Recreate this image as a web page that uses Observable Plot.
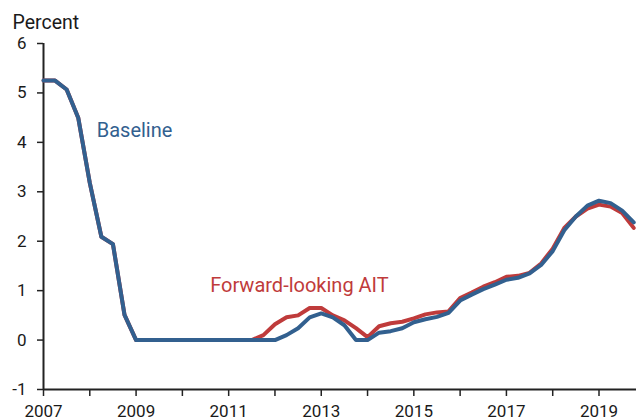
<!DOCTYPE html>
<html><head><meta charset="utf-8">
<script src="https://cdn.jsdelivr.net/npm/d3@7"></script>
<script src="https://cdn.jsdelivr.net/npm/@observablehq/plot@0.6"></script>
<style>body{margin:0;background:#fff;font-family:Roboto,sans-serif}</style>
</head><body><div id="chart"></div>
<script>
const startYear = 2007;
// quarterly policy rate paths, 2007Q1..2019Q4
const baseline = [5.25, 5.25, 5.07, 4.5, 3.18, 2.09, 1.94, 0.51, 0,
  0, 0, 0, 0, 0, 0, 0, 0, 0, 0, 0, 0,
  0.1, 0.24, 0.46, 0.54, 0.46, 0.3, 0, 0, 0.15, 0.18,
  0.24, 0.36, 0.42, 0.47, 0.55, 0.8, 0.92, 1.03, 1.12, 1.22,
  1.26, 1.35, 1.52, 1.8, 2.22, 2.5, 2.72, 2.82, 2.77, 2.62, 2.38];
const forward = [5.25, 5.25, 5.07, 4.5, 3.18, 2.09, 1.94, 0.51, 0,
  0, 0, 0, 0, 0, 0, 0, 0, 0, 0, 0.1, 0.32,
  0.46, 0.5, 0.65, 0.65, 0.5, 0.4, 0.24, 0.06, 0.28, 0.34,
  0.37, 0.44, 0.52, 0.56, 0.58, 0.85, 0.96, 1.08, 1.17, 1.28,
  1.3, 1.36, 1.55, 1.85, 2.27, 2.5, 2.66, 2.74, 2.7, 2.57, 2.27];
const yTicks = [-1, 0, 1, 2, 3, 4, 5, 6];
const xTicks = [2007, 2008, 2009, 2010, 2011, 2012, 2013, 2014, 2015, 2016, 2017, 2018, 2019];
const xLabelYears = [2007, 2009, 2011, 2013, 2015, 2017, 2019];
const seriesLabels = [
  {name: "Baseline", t: 2008.15, v: 4.24, color: "#32608f"},
  {name: "Forward-looking AIT", t: 2010.6, v: 1.1, color: "#bf3b3b"}
];
const blue = "#32608f", red = "#bf3b3b";

const rows = baseline.map((b, i) => ({t: startYear + i / 4, baseline: b, forward: forward[i]}));

const chart = Plot.plot({
  width: 636, height: 420,
  marginLeft: 43, marginRight: 0, marginTop: 43, marginBottom: 31,
  style: {fontFamily: "Roboto, sans-serif", fontSize: "17px", color: "#1a1a1a", background: "#fff"},
  x: {domain: [2007, 2019.81]},
  y: {domain: [-1, 6]},
  marks: [
    Plot.axisY(yTicks, {tickSize: 6, tickPadding: 11, tickFormat: d => String(d), label: null, fontSize: 17, stroke: "#222", strokeWidth: 1.5}),
    Plot.axisX(xTicks, {tickSize: 7, tickPadding: 8, tickFormat: d => xLabelYears.includes(d) ? String(d) : "", label: null, fontSize: 17, stroke: "#222", strokeWidth: 1.5}),
    Plot.ruleX([2007], {stroke: "#222", strokeWidth: 2}),
    Plot.ruleY([-1], {stroke: "#222", strokeWidth: 2}),
    Plot.line(rows, {x: "t", y: "forward", stroke: red, strokeWidth: 4}),
    Plot.line(rows, {x: "t", y: "baseline", stroke: blue, strokeWidth: 4}),
    Plot.text(seriesLabels, {x: "t", y: "v", text: "name", fill: "color", textAnchor: "start", lineAnchor: "middle", fontSize: 20}),
    Plot.text(["Percent"], {frameAnchor: "top-left", textAnchor: "start", lineAnchor: "middle", dx: -31, dy: -21, fontSize: 19.5, fill: "#1a1a1a"})
  ]
});
document.getElementById("chart").appendChild(chart);
</script>
</body></html>
